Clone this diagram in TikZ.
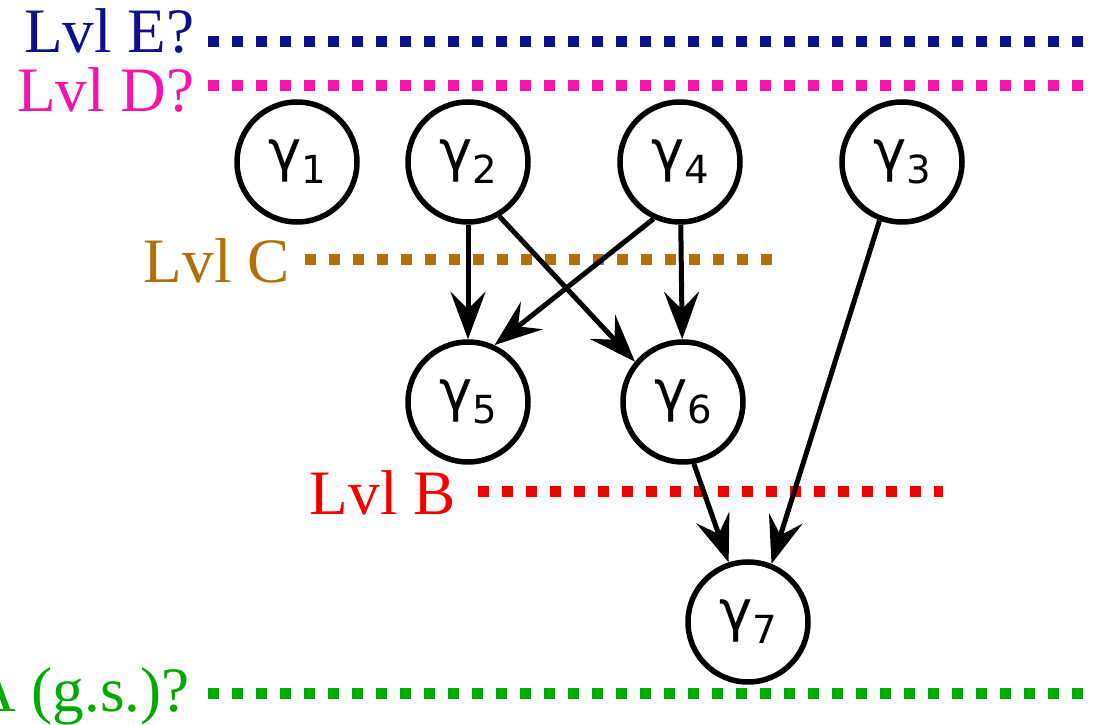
\documentclass[tikz,border=0pt]{standalone}
\usepackage{fontspec}
\setmainfont{Liberation Serif}
\newfontfamily\gfont{DejaVu Sans}
\usepackage{tikz}
\usetikzlibrary{arrows,arrows.meta,calc}
\usetikzlibrary{positioning}
\definecolor{lvlE}{RGB}{15,15,140}
\definecolor{lvlD}{RGB}{245,20,170}
\definecolor{lvlC}{RGB}{176,112,10}
\definecolor{lvlB}{RGB}{245,0,0}
\definecolor{lvlA}{RGB}{0,170,0}
\newcommand{\gam}[1]{{\gfont\fontsize{32}{32}\selectfont γ\raisebox{-0.26cm}{\fontsize{22}{22}\selectfont #1}}}
\tikzset{
	gnode/.style={circle,draw=black,line width=0.11cm,minimum size=2.4cm,inner sep=0pt},
	lvl/.style={-,line width=0.22cm,dash pattern=on 0.22cm off 0.26cm},
	node distance=4.8cm,on grid,auto}

\begin{document}
\begin{tikzpicture}[->,>={Stealth[length=9.5mm,width=7mm,inset=3.5mm]},line width=0.1cm]
	
	\tikzstyle{every node}=[font=\fontsize{36}{38}\selectfont]
	\tikzstyle{lvltext}=[anchor=base east]
	
	\useasboundingbox (0,0) rectangle (22.04,-14.5);
	
	% levels
	\coordinate (sE) at (4.16,-0.84);  \coordinate (eE) at (21.7,-0.84);
	\coordinate (sD) at (4.16,-1.72);  \coordinate (eD) at (21.7,-1.72);
	\coordinate (sC) at (6.1,-5.2);    \coordinate (eC) at (15.5,-5.2);
	\coordinate (sB) at (9.56,-9.84);  \coordinate (eB) at (18.86,-9.84);
	\coordinate (sA) at (4.16,-13.88); \coordinate (eA) at (21.7,-13.88);
	
	\node[lvltext, text=lvlE] (lE) at (4.06,-1.06) {Lvl E?};
	\node[lvltext, text=lvlD] (lD) at (4.06,-2.24) {Lvl D?};
	\node[lvltext, text=lvlC] (lC) at (5.96,-5.66) {Lvl C};
	\node[lvltext, text=lvlB] (lB) at (9.28,-10.3) {Lvl B};
	\node[lvltext, text=lvlA] (lA) at (3.96,-14.24) {A (g.s.)?};
	
	\draw[lvl, lvlE] (sE) -- (eE);
	\draw[lvl, lvlD] (sD) -- (eD);
	\draw[lvl, lvlC] (sC) -- (eC);
	\draw[lvl, lvlB] (sB) -- (eB);
	\draw[lvl, lvlA] (sA) -- (eA);
	
	% states
	\node[gnode] (g1) at (5.94,-3.24) {\gam{1}};
	\node[gnode][right=3.42cm of g1] (g2) {\gam{2}};
	\node[gnode][right=4.24cm of g2] (g4) {\gam{4}};
	\node[gnode][right=4.44cm of g4] (g3) {\gam{3}};
	\node[gnode][below of=g2] (g5) {\gam{5}};
	\node[gnode][below of=g4, xshift=0.06cm] (g6) {\gam{6}};
	\node[gnode] (g7) at (14.96,-12.44) {\gam{7}};
	
	\path
	(g2) edge (g5)
	(g2.-60) edge (g6.140)
	(g4.-115) edge (g5.65)
	(g4) edge (g6)
	(g6.-80) edge (g7.108)
	(g3.-111) edge (g7.68);
	
\end{tikzpicture}
\end{document}
